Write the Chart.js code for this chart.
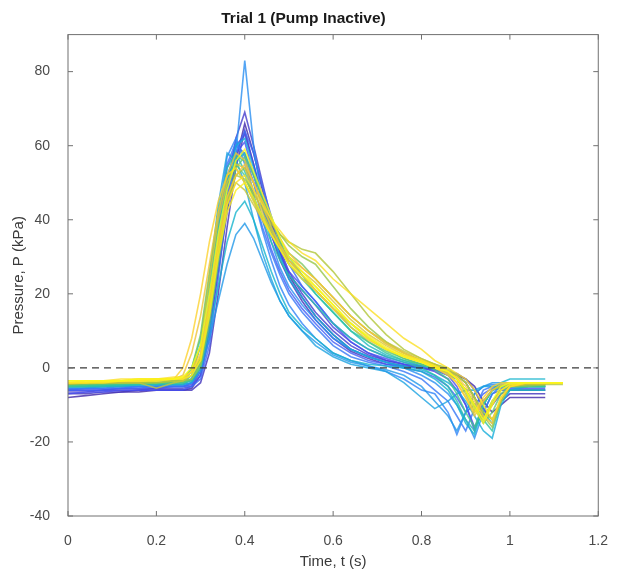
<!DOCTYPE html>
<html>
<head>
<meta charset="utf-8">
<script src="https://cdn.jsdelivr.net/npm/chart.js@4"></script>
<style>
  html, body { margin: 0; padding: 0; background: #fff; }
  canvas { display: block; }
</style>
</head>
<body>
<canvas id="chart" width="617" height="580"></canvas>
<script>
// sample times (s), shared by every trace
const timeS = [0, 0.04, 0.08, 0.12, 0.16, 0.20, 0.24,
  0.26, 0.28, 0.30, 0.32, 0.34, 0.36, 0.38, 0.40,
  0.42, 0.44, 0.46, 0.48, 0.50, 0.53, 0.56, 0.60, 0.64, 0.68, 0.72, 0.76, 0.80,
  0.83, 0.86, 0.88, 0.90, 0.92, 0.94, 0.96, 0.98, 1.00,
  1.04, 1.08, 1.12];

// pressure traces (kPa), blue -> yellow
const trace01 = [-8, -7.5, -7, -6.5, -6.5, -6, -6,  -6, -5.5, -2, 10, 26, 42, 56, 66,  58, 48, 39, 31, 25, 19, 14, 9, 5, 3, 1.5, 0.5, 0,  -0.5, -1, -2, -3, -5, -9, -12, -10, -8,  -8, -8, null];
const trace02 = [-7, -7, -6.5, -6.5, -6, -6, -6,  -6, -6, -4, 4, 20, 38, 54, 64,  55, 45, 36, 29, 24, 18, 13, 8, 4.5, 2.5, 1, 0.5, 0,  -0.5, -1, -1.5, -3, -6, -11, -14, -9, -7,  -7, -7, null];
const trace03 = [-6.5, -6.5, -6, -6, -6, -5.5, -5.5,  -5.5, -5, -1, 12, 30, 48, 62, 69,  60, 50, 40, 32, 26, 20, 15, 10, 6, 3.5, 2, 1, 0.5,  0, -1, -2, -4, -8, -13, -10, -7, -6,  -6, -6, null];
const trace04 = [-6, -6, -6, -5.5, -5.5, -5.5, -5,  -5, -4.5, 0, 14, 32, 50, 60, 63,  55, 46, 38, 31, 25, 21, 17, 11, 7, 4, 2, 1, 0,  -1, -3, -6, -10, -16, -12, -7, -6, -6,  -6, -6, null];
const trace05 = [-7, -6.5, -6.5, -6, -6, -6, -6,  -6, -5, -2, 8, 28, 46, 58, 61,  52, 43, 36, 30, 26, 22, 18, 12, 7, 4, 2.5, 1, 0,  -0.5, -2, -5, -10, -17, -9, -6, -5.5, -5.5,  -5.5, -5.5, null];
const trace06 = [-6, -6, -6, -5.5, -5.5, -5, -5,  -5, -4, 2, 18, 38, 54, 60, 58,  50, 40, 32, 26, 21, 16, 12, 7, 4, 2, 1, 0, -1,  -2.5, -5, -8, -12, -10, -7, -5.5, -5, -5,  -5, null, null];
const trace07 = [-6, -5.5, -5.5, -5.5, -5, -5, -5,  -5, -5, -3, 6, 24, 44, 58, 64,  58, 49, 41, 34, 28, 22, 18, 12, 8, 5, 3, 1.5, 0.5,  -0.5, -2, -3, -6, -10, -14, -9, -6, -5,  -5, -5, null];
const trace08 = [-5.5, -5.5, -5.5, -5, -5, -5, -5,  -5, -4, 0, 15, 36, 55, 61, 57,  47, 38, 31, 25, 20, 15, 11, 6, 3, 1.5, 0.5, -1, -3,  -6, -9, -13, -17, -11, -6, -5, -5, -5,  -5, null, null];
const trace09 = [-5.5, -5.5, -5, -5, -5, -5, -4.5,  -4.5, -3, 3, 20, 40, 57, 62, 55,  46, 37, 29, 22, 17, 12, 8, 4, 2, 0.5, -1, -3, -6,  -7, -12, -18, -12, -7, -5, -4.5, -4.5, -4.5,  -4.5, null, null];
const trace10 = [-5, -5, -5, -5, -4.5, -4.5, -4.5,  -4.5, -4, 2, 18, 38, 52, 58, 83,  60, 44, 34, 27, 22, 17, 13, 8, 5, 3, 1.5, 0, -2,  -4, -7, -10, -14, -19, -12, -7, -5, -5,  -5, null, null];
const trace11 = [-5, -5, -5, -4.5, -4.5, -4.5, -4.5,  -4.5, -4, -1, 8, 18, 28, 36, 39,  35, 29, 23, 18, 14, 10, 7, 3.5, 1.5, 0.5, -0.5, -2, -5,  -9, -13, -17, -12, -7, -5, -4, -4, -4,  -4, null, null];
const trace12 = [-5, -5, -4.5, -4.5, -4.5, -4.5, -4,  -4, -2, 6, 24, 44, 58, 56, 50,  40, 31, 24, 18, 14, 10, 6, 3, 1, 0, -1, -4, -8,  -11, -9, -7, -6, -6, -5, -5, -5, -5,  -5, -5, null];
const trace13 = [-5, -5, -5, -4.5, -4.5, -4, -4,  -4, -3, 1, 16, 34, 50, 60, 62,  54, 45, 37, 30, 24, 19, 14, 9, 5, 3, 1.5, 0.5, -0.5,  -2, -4, -6, -9, -13, -17, -19, -10, -6,  -5, -5, null];
const trace14 = [-4.5, -4.5, -4.5, -4.5, -4, -4, -4,  -4, -3.5, 0, 10, 22, 34, 42, 45,  40, 33, 26, 20, 15, 11, 8, 4, 2, 1, 0.5, 0, -1,  -3, -6, -10, -15, -18, -10, -6, -4, -3,  -3, -3, null];
const trace15 = [-5, -5, -5, -5, -4.5, -4.5, -4.5,  -4.5, -3, 3, 18, 34, 48, 56, 58,  52, 46, 40, 35, 30, 25, 20, 15, 10, 6, 3.5, 2, 0.5,  0, -1, -2, -4, -8, -12, -15, -9, -6,  -6, -6, null];
const trace16 = [-5, -5, -5, -4.5, -4.5, -4.5, -4,  -3.5, 0, 8, 24, 42, 54, 58, 53,  46, 40, 34, 29, 25, 21, 17, 12, 8, 5, 3, 1.5, 0,  -2, -5, -9, -14, -17, -10, -6, -5, -5,  -5, -5, null];
const trace17 = [-5, -5, -4.5, -4.5, -4.5, -4, -4,  -4, -3.5, 1, 16, 34, 50, 57, 56,  50, 44, 38, 33, 28, 24, 20, 15, 10, 7, 4, 2, 1,  0, -1.5, -3, -6, -10, -14, -17, -9, -5,  -5, -5, null];
const trace18 = [-5, -4.5, -4.5, -4.5, -4, -4, -4,  -3.5, -1, 6, 22, 38, 50, 55, 52,  46, 41, 36, 32, 28, 24, 21, 16, 12, 8, 5, 2.5, 1,  -0.5, -3, -7, -12, -16, -10, -6, -5, -5,  -5, -5, null];
const trace19 = [-4.5, -4.5, -4.5, -4, -4, -4, -4,  -4, -3, 0, 12, 28, 44, 54, 57,  52, 46, 40, 34, 29, 25, 21, 16, 11, 7, 4.5, 2.5, 1,  0, -1, -3, -6, -11, -15, -12, -7, -5,  -4.5, -4.5, null];
const trace20 = [-4.5, -4.5, -4, -4, -4, -4, -3.5,  -3, 0, 9, 26, 42, 52, 54, 50,  45, 41, 37, 34, 31, 28, 24, 19, 14, 10, 6.5, 4, 2,  0.5, -1, -3, -6, -10, -14, -9, -6, -5,  -5, -4.5, null];
const trace21 = [-4.5, -4, -4, -4, -4, -3.5, -3.5,  -3.5, -3, 1, 14, 30, 44, 52, 54,  50, 45, 40, 36, 33, 30, 28, 22, 16, 11, 7, 4, 2,  1, 0, -2, -4, -8, -13, -16, -9, -5,  -4.5, -4.5, null];
const trace22 = [-4.5, -4, -4, -4, -4, -4, -3.5,  -3.5, -2, 3, 18, 34, 46, 52, 51,  47, 43, 39, 36, 34, 32, 31, 26, 20, 14, 9, 5, 2.5,  1, -1, -3, -7, -12, -9, -6, -5, -4.5,  -4.5, -4.5, -4.5];
const trace23 = [-4, -4, -4, -4, -4, -5.5, -4,  -3.5, -2, 2, 16, 32, 45, 50, 48,  44, 40, 36, 33, 30, 27, 24, 19, 14, 10, 7, 4.5, 2.5,  1, -0.5, -2, -4, -8, -12, -14, -9, -5,  -4.5, -4.5, null];
const trace24 = [-4, -4, -4, -3.5, -3.5, -3.5, -3,  -3, -1, 6, 24, 40, 50, 55, 54,  48, 42, 37, 33, 29, 26, 23, 18, 13, 9, 6, 3.5, 2,  0.5, -1, -3, -6, -10, -14, -10, -6, -4.5,  -4, -4, -4];
const trace25 = [-4, -4, -3.5, -3.5, -3.5, -3, -3,  -2, 4, 14, 28, 42, 52, 58, 56,  50, 44, 38, 33, 29, 25, 21, 16, 11, 7.5, 5, 3, 1.5,  0, -1.5, -4, -8, -13, -9, -6, -4.5, -4,  -4, -4, -4];
const trace26 = [-4, -3.5, -3.5, -3.5, -3, -3, -3,  -3, -1, 4, 18, 34, 46, 52, 55,  50, 45, 40, 35, 31, 27, 24, 19, 14, 10, 6.5, 4, 2,  0.5, -1, -2.5, -5, -9, -13, -15, -8, -5,  -4, -4, -4];
const trace27 = [-4, -4, -3.5, -3.5, -3.5, -3, -3,  0, 8, 20, 34, 45, 52, 54, 50,  45, 40, 36, 32, 28, 24, 21, 16, 12, 8, 5, 3, 1.5,  0, -2, -4, -8, -12, -8, -5, -4, -4,  -4, -4, -4];
const trace28 = [-3.5, -3.5, -3.5, -3, -3, -3, -2.5,  -2.5, -1, 3, 16, 32, 44, 50, 52,  48, 44, 40, 37, 34, 31, 29, 24, 20, 16, 12, 8, 5,  2, 0, -1.5, -3, -6, -10, -14, -8, -5,  -4, -4, -4];
const trace29 = [-4, -4, -4, -3.5, -3.5, -3.5, -3,  -3, -2, 2, 14, 30, 42, 48, 50,  46, 41, 36, 32, 28, 25, 22, 17, 12, 8.5, 5.5, 3.5, 2,  0.5, -1, -3, -6, -11, -15, -10, -6, -4.5,  -4, -4, -4];
const trace30 = [-3.5, -3.5, -3.5, -3.5, -3, -3, -3,  -2.5, 0, 6, 20, 36, 48, 56, 59,  53, 47, 41, 35, 30, 26, 22, 17, 12, 8, 5, 3, 1.5,  0, -1, -3, -6, -10, -14, -9, -5, -4,  -4, -4, -4];

const traces = [trace01, trace02, trace03, trace04, trace05, trace06, trace07, trace08, trace09, trace10,
  trace11, trace12, trace13, trace14, trace15, trace16, trace17, trace18, trace19, trace20,
  trace21, trace22, trace23, trace24, trace25, trace26, trace27, trace28, trace29, trace30];

const zeroLineX = [0, 1.2];
const xTicks = [0, 0.2, 0.4, 0.6, 0.8, 1, 1.2];
const xTickLabels = ["0", "0.2", "0.4", "0.6", "0.8", "1", "1.2"];
const yTicks = [-40, -20, 0, 20, 40, 60, 80];

// parula colormap anchors
const parulaStops = [
  [62, 38, 168], [72, 82, 244], [46, 135, 247], [18, 177, 214],
  [55, 200, 151], [171, 199, 57], [254, 195, 56], [249, 251, 21]
];

function parula(f) {
  const p = f * (parulaStops.length - 1);
  const i = Math.min(Math.floor(p), parulaStops.length - 2);
  const u = p - i;
  const a = parulaStops[i], b = parulaStops[i + 1];
  const c = a.map((v, k) => Math.round(v + (b[k] - v) * u));
  return `rgba(${c[0]},${c[1]},${c[2]},0.8)`;
}

const FONT = "'Liberation Sans', Arial, Helvetica, sans-serif";

const datasets = traces.map((vals, i) => ({
  data: timeS.map((t, k) => (vals[k] === null ? null : { x: t, y: vals[k] })).filter(Boolean),
  borderColor: parula(i / (traces.length - 1)),
  borderWidth: 1.6,
  pointRadius: 0,
  tension: 0,
  order: traces.length - i + 1
}));

datasets.push({
  data: zeroLineX.map(x => ({ x, y: 0 })),
  borderColor: "#3a3a3a",
  borderWidth: 1.2,
  borderDash: [7, 5],
  pointRadius: 0,
  order: 0
});

// MATLAB-style box with inward ticks
const boxPlugin = {
  id: "box",
  afterDatasetsDraw(chart) {
    const { ctx, chartArea: a, scales: { x, y } } = chart;
    ctx.save();
    ctx.strokeStyle = "#707070";
    ctx.lineWidth = 1;
    ctx.strokeRect(a.left, a.top, a.right - a.left, a.bottom - a.top);
    ctx.beginPath();
    for (const v of xTicks) {
      const px = x.getPixelForValue(v);
      ctx.moveTo(px, a.bottom); ctx.lineTo(px, a.bottom - 5);
      ctx.moveTo(px, a.top); ctx.lineTo(px, a.top + 5);
    }
    for (const v of yTicks) {
      const py = y.getPixelForValue(v);
      ctx.moveTo(a.left, py); ctx.lineTo(a.left + 5, py);
      ctx.moveTo(a.right, py); ctx.lineTo(a.right - 5, py);
    }
    ctx.stroke();
    ctx.restore();
  }
};

new Chart(document.getElementById("chart"), {
  type: "line",
  data: { datasets },
  plugins: [boxPlugin],
  options: {
    responsive: false,
    animation: false,
    devicePixelRatio: 1,
    layout: { padding: { left: 0, right: 10, top: 0, bottom: 0 } },
    plugins: {
      legend: { display: false },
      tooltip: { enabled: false },
      title: {
        display: true,
        text: "Trial 1 (Pump Inactive)",
        color: "#1a1a1a",
        font: { family: FONT, size: 15.5, weight: "bold" },
        padding: { top: 9, bottom: 7 }
      }
    },
    scales: {
      x: {
        type: "linear",
        min: 0,
        max: 1.2,
        afterFit: s => { s.height = 64; },
        afterBuildTicks: s => { s.ticks = xTicks.map(v => ({ value: v })); },
        grid: { display: false },
        border: { display: false },
        ticks: {
          color: "#4a4a4a",
          font: { family: FONT, size: 14 },
          padding: 9,
          maxRotation: 0,
          autoSkip: false,
          callback: (v, i) => xTickLabels[i]
        },
        title: {
          display: true,
          text: "Time, t (s)",
          color: "#3a3a3a",
          font: { family: FONT, size: 15 },
          padding: { top: 0, bottom: 9 }
        }
      },
      y: {
        type: "linear",
        min: -40,
        max: 90,
        afterFit: s => { s.width = 68; },
        afterBuildTicks: s => { s.ticks = yTicks.map(v => ({ value: v })); },
        grid: { display: false },
        border: { display: false },
        ticks: {
          color: "#4a4a4a",
          font: { family: FONT, size: 14 },
          padding: 10,
          autoSkip: false
        },
        title: {
          display: true,
          text: "Pressure, P (kPa)",
          color: "#3a3a3a",
          font: { family: FONT, size: 15 },
          padding: { top: 10, bottom: 0 }
        }
      }
    }
  }
});
</script>
</body>
</html>
